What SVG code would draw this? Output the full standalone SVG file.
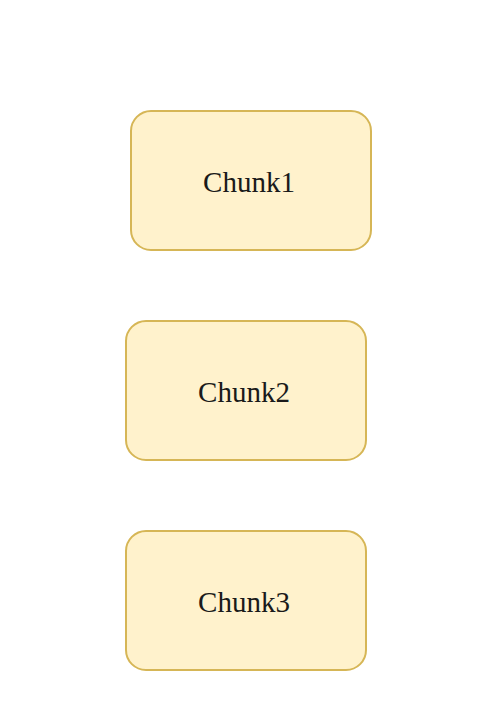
<svg xmlns="http://www.w3.org/2000/svg" width="492" height="702" viewBox="0 0 492 702">
<style>
.box{fill:#fff2cc;stroke:#d6b656;stroke-width:2}
.lbl{font-family:"Liberation Serif","Times New Roman",serif;font-size:29px;fill:#1a1a1a;text-anchor:middle}
.edge{stroke:#ffffff;stroke-width:2;fill:none}
</style>
<rect width="492" height="702" fill="#ffffff"/>
<g id="connectors">
<line class="edge" x1="251" y1="250" x2="251" y2="321"/>
<line class="edge" x1="246" y1="460" x2="246" y2="531"/>
</g>
<g id="chunk1">
<rect class="box" x="131" y="111" width="240" height="139" rx="20" ry="20"/>
<text class="lbl" x="249" y="192">Chunk1</text>
</g>
<g id="chunk2">
<rect class="box" x="126" y="321" width="240" height="139" rx="20" ry="20"/>
<text class="lbl" x="244" y="402">Chunk2</text>
</g>
<g id="chunk3">
<rect class="box" x="126" y="531" width="240" height="139" rx="20" ry="20"/>
<text class="lbl" x="244" y="612">Chunk3</text>
</g>
</svg>
